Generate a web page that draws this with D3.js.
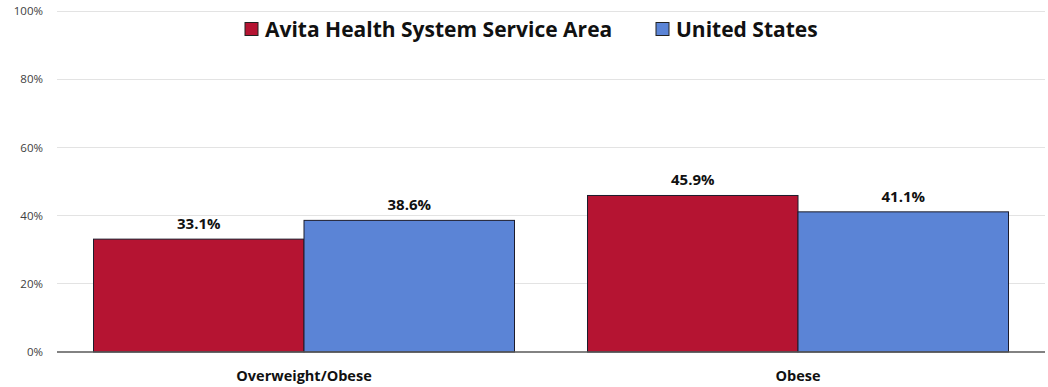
<!DOCTYPE html>
<html><head><meta charset="utf-8">
<script src="https://cdn.jsdelivr.net/npm/d3@7"></script>
<style>body{margin:0;background:#fff;} svg{display:block;}</style>
</head><body>
<svg id="c" width="1048" height="387"></svg>
<script>
const categories = ["Overweight/Obese", "Obese"];
const seriesNames = ["Avita Health System Service Area", "United States"];
const avitaValues = [33.1, 45.9];
const usValues = [38.6, 41.1];
const yTicks = [0, 20, 40, 60, 80, 100];
const colors = ["#B51432", "#5B84D6"];

const svg = d3.select("#c");
const font = "'Open Sans', 'Segoe UI', sans-serif";
const x0 = d3.scaleBand().domain(categories).range([57, 1045]).paddingInner(0).paddingOuter(0);
const x1 = d3.scaleBand().domain(seriesNames).range([36.5, x0.bandwidth() - 36.5]).padding(0);
const y = d3.scaleLinear().domain([0, 100]).range([352, 11]);

// gridlines
svg.append("g").selectAll("line").data(yTicks.filter(d => d > 0)).join("line")
  .attr("x1", 57).attr("x2", 1045).attr("y1", d => y(d)).attr("y2", d => y(d))
  .attr("stroke", "#e3e3e3").attr("stroke-width", 1).attr("shape-rendering", "crispEdges");

// y tick labels
const yAxis = d3.axisLeft(y).tickValues(yTicks).tickFormat(d => d + "%").tickSize(0).tickPadding(14);
const ga = svg.append("g").attr("transform", "translate(57,0)").call(yAxis);
ga.select(".domain").remove();
ga.selectAll("text").attr("font-family", font).attr("font-size", 11.5).attr("fill", "#404040");

const data = categories.map((c, i) => ({cat: c, vals: [avitaValues[i], usValues[i]]}));
const groups = svg.append("g").selectAll("g").data(data).join("g")
  .attr("transform", d => `translate(${x0(d.cat)},0)`);
groups.selectAll("rect").data(d => d.vals.map((v, j) => ({s: seriesNames[j], v, j}))).join("rect")
  .attr("x", d => x1(d.s)).attr("width", x1.bandwidth())
  .attr("y", d => y(d.v)).attr("height", d => y(0) - y(d.v))
  .attr("fill", d => colors[d.j]).attr("stroke", "#1c1c2c").attr("stroke-width", 1);
groups.selectAll("text.v").data(d => d.vals.map((v, j) => ({s: seriesNames[j], v, j}))).join("text")
  .attr("class", "v")
  .attr("x", d => x1(d.s) + x1.bandwidth() / 2).attr("y", d => y(d.v) - 10)
  .attr("text-anchor", "middle").attr("font-family", font).attr("font-weight", "bold")
  .attr("font-size", 15).attr("fill", "#111").text(d => d.v.toFixed(1) + "%");

// x axis line
svg.append("line").attr("x1", 57).attr("x2", 1045).attr("y1", y(0)).attr("y2", y(0))
  .attr("stroke", "#595959").attr("stroke-width", 1.3);

// category labels
const xAxis = d3.axisBottom(x0).tickSize(0).tickPadding(19);
const gx = svg.append("g").attr("transform", `translate(0,${y(0)})`).call(xAxis);
gx.select(".domain").remove();
gx.selectAll("text").attr("font-family", font).attr("font-weight", "bold").attr("font-size", 14.5).attr("fill", "#111");

// legend
const legendX = [245, 656];
const lg = svg.append("g").selectAll("g").data(seriesNames).join("g")
  .attr("transform", (d, i) => `translate(${legendX[i]},0)`);
lg.append("rect").attr("x", 0).attr("y", 22.5).attr("width", 13).attr("height", 13)
  .attr("fill", (d, i) => colors[i]).attr("stroke", "#222").attr("stroke-width", 1);
lg.append("text").attr("x", 20).attr("y", 37).attr("font-family", font).attr("font-weight", "bold")
  .attr("font-size", 21).attr("fill", "#111").text(d => d);
</script>
</body></html>
